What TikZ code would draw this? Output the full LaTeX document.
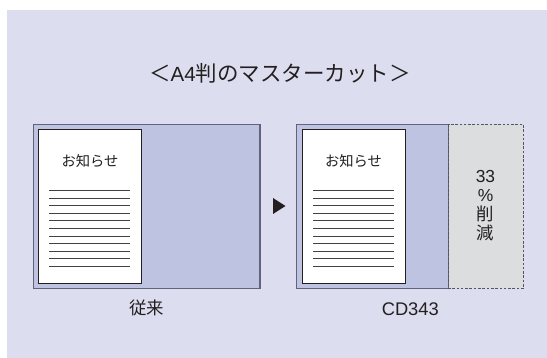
\documentclass[tikz,border=0pt]{standalone}
\usepackage{fontspec}
\setmainfont{Liberation Sans}
\newfontfamily\cjk{Noto Sans CJK JP}
\definecolor{bgc}{HTML}{DCDDEE}
\definecolor{panelc}{HTML}{BFC3E2}
\definecolor{edgec}{HTML}{62627A}
\definecolor{dashc}{HTML}{55555F}
\definecolor{cutc}{HTML}{DCDDDF}
\definecolor{inkc}{HTML}{231F20}
\tikzset{
  panel/.style={draw=edgec,fill=panelc,line width=1.2pt},
  cutbox/.style={draw=dashc,fill=cutc,line width=1.2pt,dash pattern=on 2.6pt off 1.7pt},
  paper/.style={draw=inkc,fill=white,line width=.9pt},
  rule/.style={draw=inkc!85,line width=.75pt},
  lbl/.style={text=inkc,inner sep=0pt,font=\fontsize{14.3}{16}\cjk},
  sidelbl/.style={text=inkc,inner sep=0pt,font=\fontsize{17.4}{18}\cjk},
}
\begin{document}
\begin{tikzpicture}[x=1pt,y=-1pt]
\useasboundingbox (0,0) rectangle (547,358);
\fill[bgc] (7,10) rectangle (547,358);
\node[lbl,anchor=base,font=\fontsize{21.5}{24}\cjk] (title) at (280,81.7) {＜{\fontsize{20.5}{24}\rmfamily A4}判のマスターカット＞};
% left
\path[panel] (33.5,124.5) rectangle (260,288.5);
\path[paper] (38.5,129.5) rectangle (141.5,283.5);
\node[lbl] (t1) at (90,160.7) {お知らせ};
\foreach \i in {0,...,10} \draw[rule] (49.3,{190.7+7.53*\i}) -- (130,{190.7+7.53*\i});
\node[sidelbl] (c1) at (146.5,308) {従来};
% arrow
\fill[inkc] (273,198) -- (285.5,206) -- (273,214) -- cycle;
% right
\path[panel] (296.5,124.5) rectangle (448.5,288.5);
\path[cutbox] (448.5,124.5) rectangle (523.5,288.5);
\path[paper] (302,129.5) rectangle (405.5,283.5);
\node[lbl] (t2) at (353.5,160.7) {お知らせ};
\foreach \i in {0,...,10} \draw[rule] (313.3,{190.7+7.53*\i}) -- (394,{190.7+7.53*\i});
\node[sidelbl,font=\fontsize{17.4}{18}\rmfamily] (n33) at (485.5,177) {33};
\node[sidelbl,font=\fontsize{17.4}{18}\rmfamily] (pct) at (485.5,195.5) {\%};
\node[sidelbl] (k1) at (485.5,214) {削};
\node[sidelbl] (k2) at (485.5,233) {減};
\node[sidelbl,font=\fontsize{18.3}{20}\rmfamily] (c2) at (410.3,309) {CD343};
\end{tikzpicture}
\end{document}
